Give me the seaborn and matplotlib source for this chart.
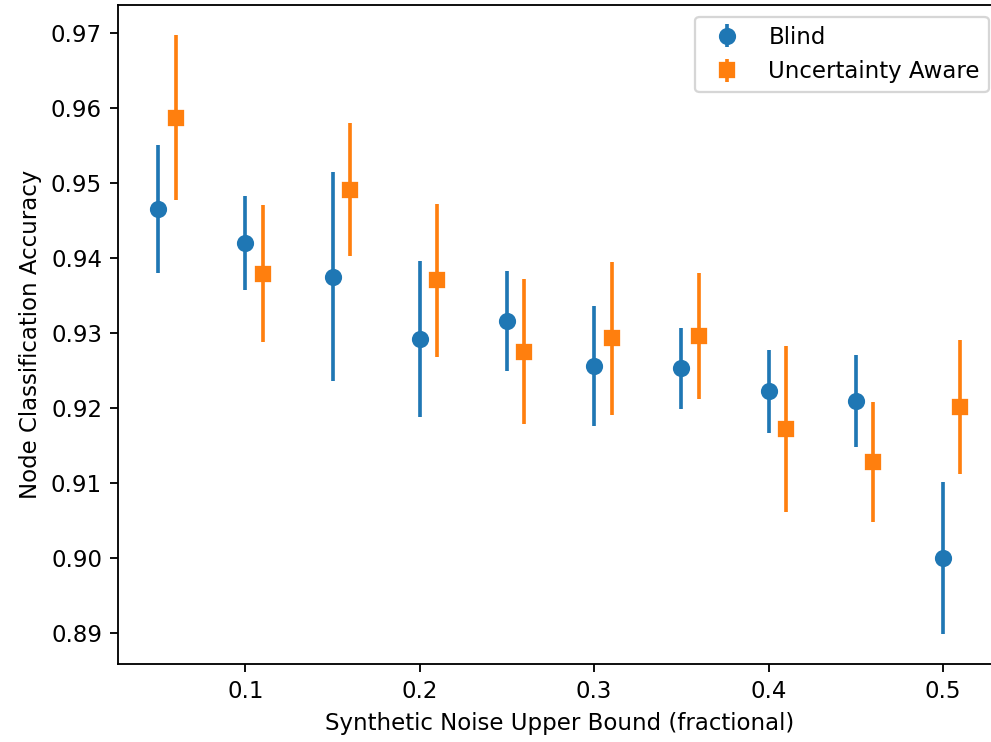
import numpy as np
import seaborn as sns
import matplotlib.pyplot as plt

# noise levels (blind); uncertainty aware is shifted right a little
noise = [0.05, 0.10, 0.15, 0.20, 0.25, 0.30, 0.35, 0.40, 0.45, 0.50]
shift = 0.01

blind_acc = [0.9465, 0.9420, 0.9375, 0.9292, 0.9316, 0.9256, 0.9253, 0.9222, 0.9209, 0.9000]
blind_err = [0.0085, 0.0063, 0.0139, 0.0104, 0.0067, 0.0080, 0.0054, 0.0055, 0.0061, 0.0101]

aware_acc = [0.9587, 0.9379, 0.9491, 0.9370, 0.9275, 0.9293, 0.9296, 0.9172, 0.9128, 0.9201]
aware_err = [0.0110, 0.0091, 0.0089, 0.0102, 0.0097, 0.0102, 0.0084, 0.0111, 0.0080, 0.0089]

colors = sns.color_palette("tab10")

fig = plt.figure(figsize=(992 / 165, 742 / 165), dpi=165)
# the original was cropped on the right, so the axes run past the edge
ax = fig.add_axes([0.119, 0.1055, 0.8896, 0.8877])
ax.spines['right'].set_visible(False)

ax.errorbar(noise, blind_acc, yerr=blind_err, fmt='o', color=colors[0],
            markersize=6.5, elinewidth=1.6, label='Blind')
ax.errorbar(np.array(noise) + shift, aware_acc, yerr=aware_err, fmt='s', color=colors[1],
            markersize=6.5, elinewidth=1.6, label='Uncertainty Aware')

ax.set_xlabel('Synthetic Noise Upper Bound (fractional)')
ax.set_ylabel('Node Classification Accuracy')
ax.legend(loc='upper right')

plt.savefig('out.png')
